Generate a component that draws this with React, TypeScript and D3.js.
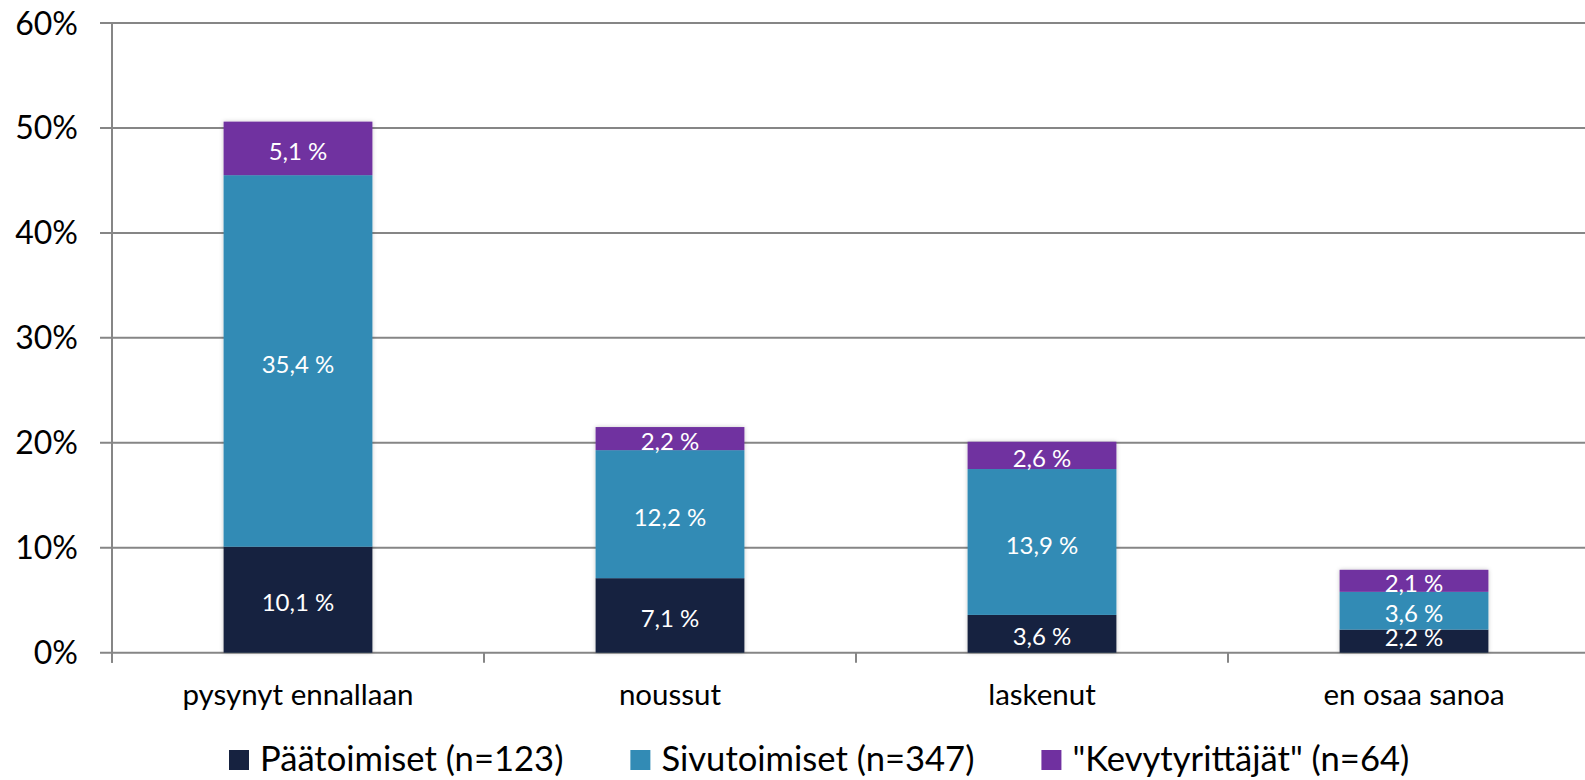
import React, { useEffect, useRef } from 'react';
import * as d3 from 'd3';

// Stacked bar chart: share of respondents by answer and entrepreneur type
const categories = ['pysynyt ennallaan', 'noussut', 'laskenut', 'en osaa sanoa'];
const seriesNames = ['Päätoimiset (n=123)', 'Sivutoimiset (n=347)', '"Kevytyrittäjät" (n=64)'];
const paatoimiset = [10.1, 7.1, 3.6, 2.2];
const sivutoimiset = [35.4, 12.2, 13.9, 3.6];
const kevytyrittajat = [5.1, 2.2, 2.6, 2.1];
const yTicks = [0, 10, 20, 30, 40, 50, 60];
const colors = ['#162240', '#328BB5', '#7030A0'];

const W = 1585;
const H = 780;
const FONT = 'Lato, "Open Sans", sans-serif';

export default function App() {
  const ref = useRef<HTMLDivElement>(null);

  useEffect(() => {
    const el = ref.current;
    if (!el) return;
    document.body.style.margin = '0';
    while (el.firstChild) el.removeChild(el.firstChild);

    const margin = { left: 112, right: -15, top: 23, bottom: 127.3 };
    const x0 = margin.left;
    const x1 = W - margin.right;
    const yBottom = H - margin.bottom;

    const x = d3.scaleBand<string>().domain(categories).range([x0, x1]).paddingInner(0.6).paddingOuter(0.3);
    const y = d3.scaleLinear().domain([0, 60]).range([yBottom, margin.top]);

    const rows = categories.map((c, i) => ({
      cat: c,
      s0: paatoimiset[i],
      s1: sivutoimiset[i],
      s2: kevytyrittajat[i],
    }));
    const stack = d3.stack<any>().keys(['s0', 's1', 's2'])(rows);

    const svg = d3
      .create('svg')
      .attr('width', W)
      .attr('height', H)
      .attr('viewBox', [0, 0, W, H])
      .style('display', 'block')
      .style('font-family', FONT)
      .style('background', '#fff');

    const defs = svg.append('defs');
    const filt = defs.append('filter').attr('id', 'shadow').attr('x', '-10%').attr('y', '-10%').attr('width', '120%').attr('height', '120%');
    filt.append('feDropShadow').attr('dx', 0).attr('dy', 0).attr('stdDeviation', 2).attr('flood-color', '#000').attr('flood-opacity', 0.22);

    // gridlines (extend left past the axis as tick marks)
    svg
      .append('g')
      .selectAll('line')
      .data(yTicks)
      .join('line')
      .attr('x1', x0 - 12)
      .attr('x2', x1)
      .attr('y1', (d) => y(d))
      .attr('y2', (d) => y(d))
      .attr('stroke', '#868686')
      .attr('stroke-width', 2);

    // y axis line
    svg
      .append('line')
      .attr('x1', x0)
      .attr('x2', x0)
      .attr('y1', y(60))
      .attr('y2', yBottom + 10)
      .attr('stroke', '#868686')
      .attr('stroke-width', 2);

    // category ticks
    const step = x.step();
    svg
      .append('g')
      .selectAll('line')
      .data(d3.range(categories.length + 1))
      .join('line')
      .attr('x1', (i) => x0 + i * step)
      .attr('x2', (i) => x0 + i * step)
      .attr('y1', yBottom)
      .attr('y2', yBottom + 10)
      .attr('stroke', '#868686')
      .attr('stroke-width', 2);

    // y labels
    svg
      .append('g')
      .selectAll('text')
      .data(yTicks)
      .join('text')
      .attr('x', 78)
      .attr('y', (d) => y(d) + 11.5)
      .attr('text-anchor', 'end')
      .attr('font-size', 32)
      .attr('fill', '#000')
      .text((d) => `${d}%`);

    // bars
    const bars = svg.append('g').attr('filter', 'url(#shadow)');
    stack.forEach((layer, li) => {
      bars
        .append('g')
        .attr('fill', colors[li])
        .selectAll('rect')
        .data(layer)
        .join('rect')
        .attr('x', (d: any) => x(d.data.cat)!)
        .attr('width', x.bandwidth())
        .attr('y', (d: any) => y(d[1]))
        .attr('height', (d: any) => y(d[0]) - y(d[1]));
    });

    // data labels
    const fmt = (v: number) => d3.format('.1f')(v).replace('.', ',') + ' %';
    const labels = svg.append('g').attr('font-size', 24).attr('fill', '#fff').attr('text-anchor', 'middle');
    stack.forEach((layer) => {
      labels
        .append('g')
        .selectAll('text')
        .data(layer)
        .join('text')
        .attr('x', (d: any) => x(d.data.cat)! + x.bandwidth() / 2)
        .attr('y', (d: any) => {
          const mid = (y(d[0]) + y(d[1])) / 2 + 3;
          return Math.min(mid, yBottom - 15) + 8.6;
        })
        .text((d: any) => fmt(d[1] - d[0]));
    });

    // category labels
    svg
      .append('g')
      .selectAll('text')
      .data(categories)
      .join('text')
      .attr('x', (d) => x(d)! + x.bandwidth() / 2)
      .attr('y', yBottom + 52)
      .attr('text-anchor', 'middle')
      .attr('font-size', 29.5)
      .attr('fill', '#000')
      .text((d) => d);

    // legend
    el.appendChild(svg.node()!);
    const legend = svg.append('g');
    let lx = 229;
    seriesNames.forEach((name, i) => {
      legend.append('rect').attr('x', lx).attr('y', 750).attr('width', 20).attr('height', 20).attr('fill', colors[i]);
      const t = legend
        .append('text')
        .attr('x', lx + 31)
        .attr('y', 771)
        .attr('font-size', 34.6)
        .attr('fill', '#000')
        .text(name);
      const w = (t.node() as SVGTextElement).getComputedTextLength();
      lx += 31 + w + 67;
    });
  }, []);

  return <div ref={ref} style={{ width: W, height: H }} />;
}
